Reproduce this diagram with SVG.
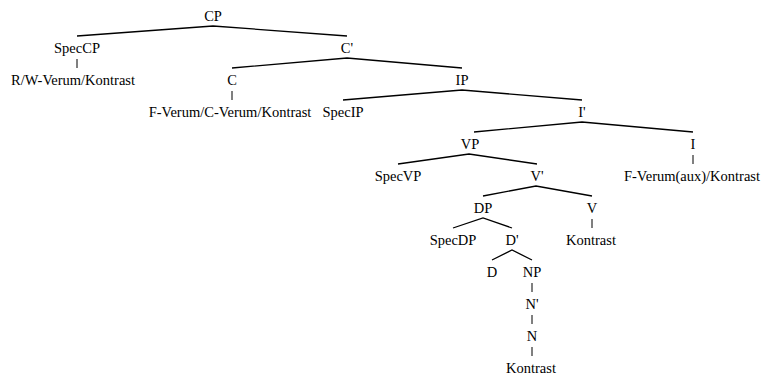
<svg xmlns="http://www.w3.org/2000/svg" width="763" height="376" viewBox="0 0 763 376">
  <style>
    text { font-family: "Liberation Serif", "Times New Roman", Tinos, "DejaVu Serif", serif; font-size: 14.5px; fill: #000; text-anchor: middle; }
    .edge { fill: none; stroke: #000; stroke-width: 1.3; stroke-linecap: butt; stroke-linejoin: miter; }
    .unary { fill: none; stroke: #000; stroke-width: 1; }
  </style>
  <rect width="763" height="376" fill="#fff"/>

  <!-- branches: left child, parent apex, right child -->
  <g id="connectors">
    <polyline class="edge" points="77,36 213,26 347,36"/>
    <line class="unary" x1="77" y1="59" x2="77" y2="68"/>
    <polyline class="edge" points="232,68 347,58 462,68"/>
    <line class="unary" x1="232" y1="91" x2="232" y2="100"/>
    <polyline class="edge" points="343,100 462,90 582,100"/>
    <polyline class="edge" points="474,132 582,122 693,132"/>
    <polyline class="edge" points="398,164 469,154 537,164"/>
    <line class="unary" x1="693" y1="155" x2="693" y2="164"/>
    <polyline class="edge" points="483,196 536,186 592,196"/>
    <polyline class="edge" points="453,228 483,218 512,228"/>
    <line class="unary" x1="592" y1="219" x2="592" y2="228"/>
    <polyline class="edge" points="492,260 512,250 532,260"/>
    <line class="unary" x1="532" y1="283" x2="532" y2="292"/>
    <line class="unary" x1="532" y1="315" x2="532" y2="324"/>
    <line class="unary" x1="532" y1="347" x2="532" y2="356"/>
  </g>

  <!-- nodes -->
  <g id="labels" font-family="Liberation Serif, serif">
  <g id="n-CP"><text x="213" y="21">CP</text></g>
  <g id="n-SpecCP"><text x="77" y="53">SpecCP</text></g>
  <g id="n-SpecCP-word"><text x="73" y="85">R/W-Verum/Kontrast</text></g>
  <g id="n-Cbar"><text x="347" y="53">C'</text></g>
  <g id="n-C"><text x="232" y="85">C</text></g>
  <g id="n-C-word"><text x="230" y="117">F-Verum/C-Verum/Kontrast</text></g>
  <g id="n-IP"><text x="462" y="85">IP</text></g>
  <g id="n-SpecIP"><text x="343" y="117">SpecIP</text></g>
  <g id="n-Ibar"><text x="582" y="117">I'</text></g>
  <g id="n-VP"><text x="470" y="149">VP</text></g>
  <g id="n-I"><text x="693" y="149">I</text></g>
  <g id="n-I-word"><text x="692" y="181">F-Verum(aux)/Kontrast</text></g>
  <g id="n-SpecVP"><text x="398" y="181">SpecVP</text></g>
  <g id="n-Vbar"><text x="537" y="181">V'</text></g>
  <g id="n-DP"><text x="483" y="213">DP</text></g>
  <g id="n-V"><text x="592" y="213">V</text></g>
  <g id="n-V-word"><text x="591" y="245">Kontrast</text></g>
  <g id="n-SpecDP"><text x="453" y="245">SpecDP</text></g>
  <g id="n-Dbar"><text x="512" y="245">D'</text></g>
  <g id="n-D"><text x="492" y="277">D</text></g>
  <g id="n-NP"><text x="532" y="277">NP</text></g>
  <g id="n-Nbar"><text x="532" y="309">N'</text></g>
  <g id="n-N"><text x="532" y="341">N</text></g>
  <g id="n-N-word"><text x="531" y="373">Kontrast</text></g>
  </g>
</svg>
